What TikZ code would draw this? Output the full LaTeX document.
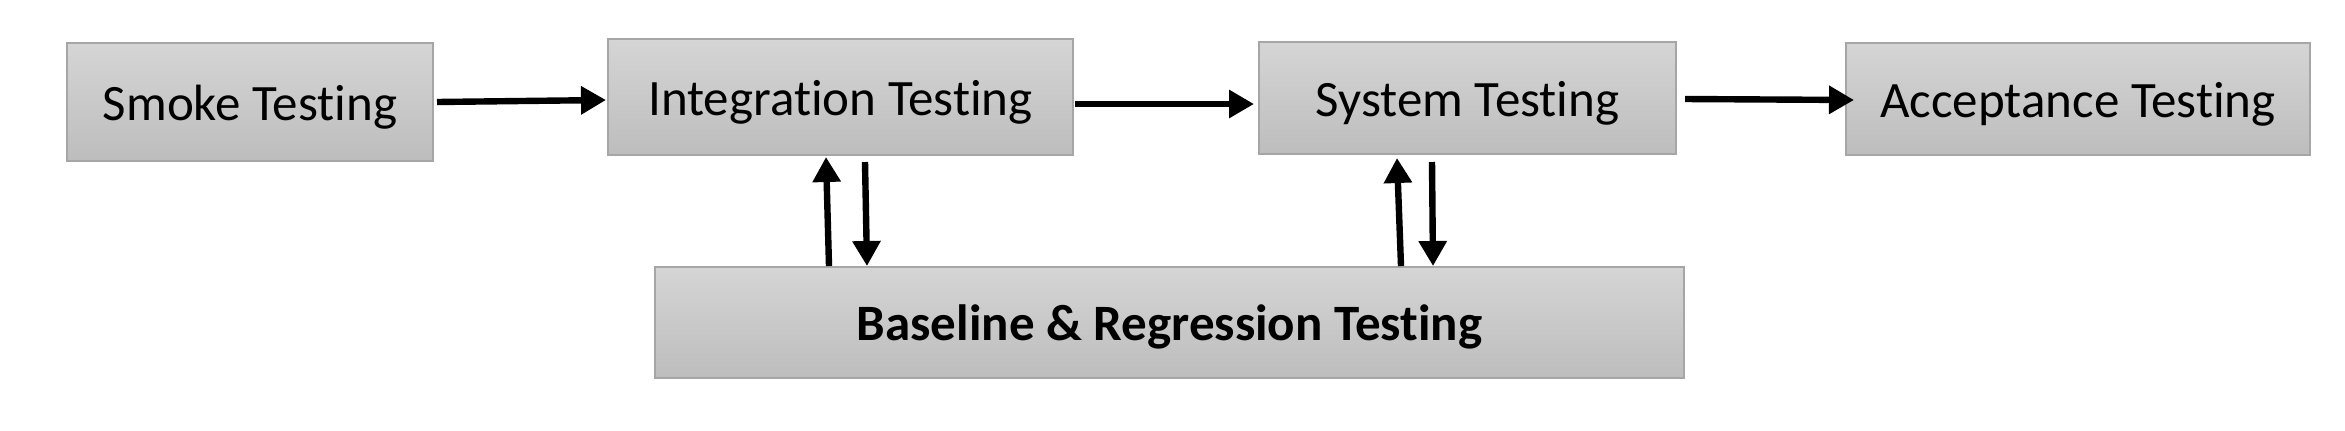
\documentclass[tikz,border=0pt]{standalone}
\usepackage{fontspec}
\setmainfont{Carlito}[Ligatures={NoCommon}]
\usetikzlibrary{arrows.meta,calc}
\definecolor{boxtop}{RGB}{213,213,213}
\definecolor{boxbot}{RGB}{189,189,189}
\definecolor{boxline}{RGB}{166,166,166}
\begin{document}
\begin{tikzpicture}[x=0.5pt,y=-0.5pt,
  stage/.style={draw=boxline, line width=1pt, top color=boxtop, bottom color=boxbot,
    inner sep=0pt, font=\fontsize{25.5}{30}\selectfont, text height=23.2pt, text depth=4.85pt},
  flow/.style={line width=3.2pt, -{Triangle[length=12.5pt,width=13.5pt]}}]
\useasboundingbox (0,0) rectangle (2345,430);
\node[stage, minimum width=183pt, minimum height=59pt] (smoke) at (250,102) {Smoke Testing};
\node[stage, minimum width=232.5pt, minimum height=58pt] (integ) at (840.5,97) {Integration Testing};
\node[stage, minimum width=208.5pt, minimum height=56pt] (sys) at (1467.5,98) {System Testing};
\node[stage, minimum width=232pt, minimum height=56pt] (acc) at (2078,99) {Acceptance Testing};
\node[stage, minimum width=514.5pt, minimum height=55.5pt, font=\fontsize{25.5}{30}\selectfont\bfseries] (base) at (1169.5,322.5) {Baseline \& Regression Testing};
\draw[flow] ($(smoke.east)+(3,0)$) -- ($(integ.west)+(-1,3)$);
\draw[flow] ($(integ.east)+(1,7)$) -- ($(sys.west)+(-4,6)$);
\draw[flow] ($(sys.east)+(8,1)$) -- ($(acc.west)+(9,1)$);
\draw[flow] ($(base.north west)+(175,0)$) -- ($(integ.south west)+(219,1)$);
\draw[flow] ($(integ.south west)+(258,6)$) -- ($(base.north west)+(213,0)$);
\draw[flow] ($(base.north west)+(747,0)$) -- ($(sys.south west)+(139,3)$);
\draw[flow] ($(sys.south west)+(174,7)$) -- ($(base.north west)+(779,0)$);
\end{tikzpicture}
\end{document}
